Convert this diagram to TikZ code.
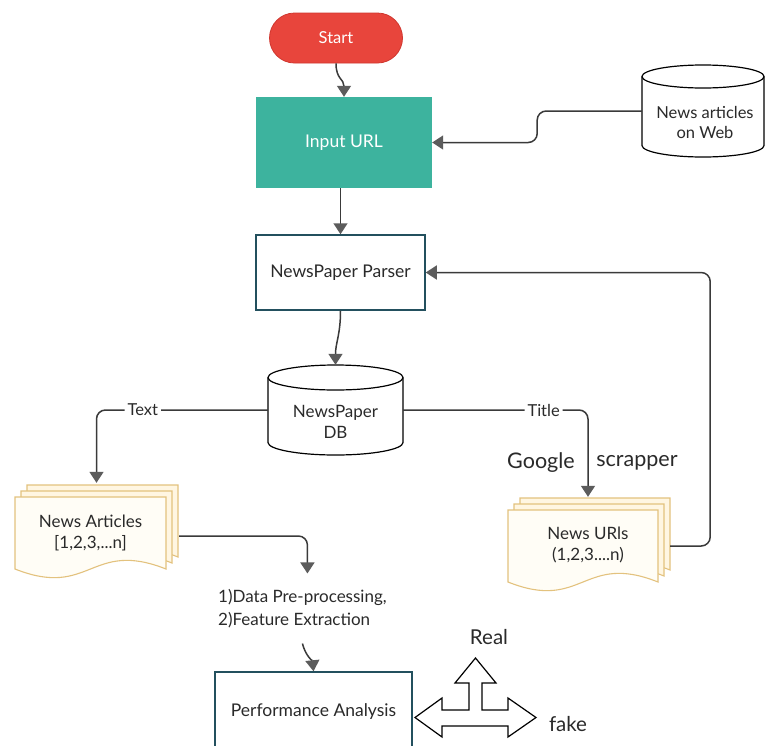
\documentclass[tikz,border=0pt]{standalone}
\usepackage{fontspec}
\setmainfont{Lato}
\usetikzlibrary{arrows.meta,calc}

\definecolor{startred}{HTML}{E8453C}
\definecolor{startedge}{HTML}{D0372F}
\definecolor{tealfill}{HTML}{3DB39E}
\definecolor{boxline}{HTML}{23505E}
\definecolor{linkgray}{HTML}{3A3A3A}
\definecolor{tipgray}{HTML}{5C5C5C}
\definecolor{sheetline}{HTML}{E3C27E}
\definecolor{sheetfill}{HTML}{FFF6E2}
\definecolor{sheetfront}{HTML}{FFFDF6}
\definecolor{inkgray}{HTML}{2A2A2A}

% one page of a stacked document: left x, top y (downwards), width, straight right-side height, fill
\newcommand{\docsheet}[5]{%
  \pgfmathsetmacro{\shR}{#1+#3}%
  \pgfmathsetmacro{\shM}{#1+0.5*#3}%
  \pgfmathsetmacro{\shB}{-#2-#4}%
  \draw[sheetline, line width=1.1pt, fill=#5]
    (#1,-#2) -- (\shR,-#2) -- (\shR,\shB)
    .. controls (\shM,\shB+30) and (\shM,\shB-30) .. (#1,\shB) -- cycle;}

% a drum: centre x, top y, bottom y (downwards), x radius, y radius
\newcommand{\drumshape}[5]{%
  \pgfmathsetmacro{\drL}{#1-#4}%
  \pgfmathsetmacro{\drR}{#1+#4}%
  \pgfmathsetmacro{\drT}{-#2-#5}%
  \pgfmathsetmacro{\drB}{-#3+#5}%
  \draw[line width=1.2pt, fill=white]
    (\drL,\drT) -- (\drL,\drB)
    arc[start angle=180, end angle=360, x radius=#4, y radius=#5]
    -- (\drR,\drT)
    arc[start angle=0, end angle=180, x radius=#4, y radius=#5] -- cycle;
  \draw[line width=1.2pt]
    (\drL,\drT) arc[start angle=180, end angle=360, x radius=#4, y radius=#5];}

\tikzset{
  link/.style={draw=linkgray, line width=1.5pt, rounded corners=9pt,
    -{Triangle[width=14pt,length=11pt,color=tipgray]}},
  plaintext/.style={text=inkgray, font=\fontsize{17}{21}\selectfont, align=center},
  boxtext/.style={font=\fontsize{17.5}{20}\selectfont},
  tag/.style={fill=white, text=inkgray, inner sep=3pt, font=\fontsize{16.5}{18}\selectfont},
  bigword/.style={text=inkgray, font=\fontsize{21.5}{24}\selectfont},
  anchorbox/.style={draw=none, inner sep=0pt}
}

\begin{document}
\begin{tikzpicture}[x=1pt, y=1pt]
\useasboundingbox (0,0) rectangle (766,-745);
\clip (0,0) rectangle (766,-745);
\fill[white] (0,0) rectangle (766,-745);

% ---- process boxes ----
\node[fill=startred, draw=startedge, line width=0.8pt, rounded corners=25pt,
      minimum width=133pt, minimum height=50pt, text=white,
      font=\fontsize{16.5}{18}\selectfont] (start) at (336,-38) {Start};

\node[fill=tealfill, minimum width=176pt, minimum height=91pt, text=white,
      boxtext] (input) at (344,-142.5) {Input URL};

\node[draw=boxline, line width=1.5pt, fill=white, minimum width=169pt,
      minimum height=75pt, text=inkgray, boxtext]
      (parser) at (340.5,-272.5) {NewsPaper Parser};

% ---- data stores ----
\drumshape{703}{65}{157}{61}{11.5}
\node[anchorbox, minimum width=122pt, minimum height=92pt] (web) at (703,-111) {};
\node[plaintext, font=\fontsize{16.5}{20}\selectfont] (webtext)
      at ([xshift=2pt,yshift=-11pt]web.center) {News articles\\on Web};

\drumshape{335.5}{365}{455}{67.5}{12.5}
\node[anchorbox, minimum width=135pt, minimum height=90pt] (db) at (335.5,-410) {};
\node[plaintext] (dbtext) at ([yshift=-12pt]db.center) {NewsPaper\\DB};

% ---- document stacks ----
\docsheet{27}{485}{151}{72}{sheetfill}
\docsheet{21}{491}{151}{72}{sheetfill}
\docsheet{15}{497}{151}{72}{sheetfront}
\node[anchorbox, plaintext, minimum width=151pt, minimum height=76pt]
      (articles) at (90.5,-533) {News Articles\\{[}1,2,3,...n{]}};

\docsheet{520}{498}{150}{72}{sheetfill}
\docsheet{514}{504}{150}{72}{sheetfill}
\docsheet{508}{510}{150}{72}{sheetfront}
\node[anchorbox, plaintext, minimum width=150pt, minimum height=76pt]
      (urls) at (588,-545) {News URls\\(1,2,3....n)};

% ---- processing steps and result ----
\node[plaintext, align=left, anchor=west, inner xsep=6pt, inner ysep=15.5pt,
      font=\fontsize{17}{23}\selectfont]
      (steps) at (212,-608.5) {1)Data Pre-processing,\\2)Feature Extraction};

\node[draw=boxline, line width=1.5pt, fill=white, minimum width=197pt,
      minimum height=80pt, text=inkgray, boxtext]
      (perf) at (313.5,-712) {Performance Analysis};

% outcome arrows (up, left, right)
\draw[line width=1.2pt, fill=white, line join=miter]
  (415,-717.5) -- (442,-698) -- (442,-710) -- (469,-710) -- (469,-683)
  -- (455,-683) -- (475.5,-658) -- (496,-683) -- (482,-683) -- (482,-710)
  -- (508,-710) -- (508,-698) -- (536,-717.5) -- (508,-737) -- (508,-726)
  -- (442,-726) -- (442,-737) -- cycle;
\node[bigword, font=\fontsize{20.5}{22}\selectfont] (real) at (489,-637) {Real};
\node[bigword, font=\fontsize{20.5}{22}\selectfont] (fake) at (568,-724) {fake};

\node[bigword] (google) at (541,-463) {Google};
\node[bigword] (scrapper) at (637,-463) {scrapper};

% ---- connectors ----
\draw[link] (start.south) .. controls +(0,-16) and +(0,18) .. (input.north);
\draw[link] (web.west) -| ($(input.east)+(105,0)$) -- (input.east);
\draw[link] (parser.north |- input.south) -- (parser.north);
\draw[link] (parser.south) .. controls +(0,-24) and +(0,22) .. (db.north);
\draw[link] (db.west) -| node[tag, pos=0.365] (textlbl) {Text}
            ([xshift=6pt,yshift=12pt]articles.north);
\draw[link] (db.east) -| node[tag, pos=0.38] (titlelbl) {Title}
            ([xshift=0pt,yshift=10pt]urls.north);
\draw[link] ([xshift=7pt,yshift=-1pt]urls.east) -- ++(40,0) |- (parser.east);
\draw[link] ([xshift=13pt,yshift=-3pt]articles.east) -| ([xshift=5pt]steps.north);
\draw[link] (steps.south) .. controls +(3,-12) and +(-1,10) .. (perf.north);

\end{tikzpicture}
\end{document}
